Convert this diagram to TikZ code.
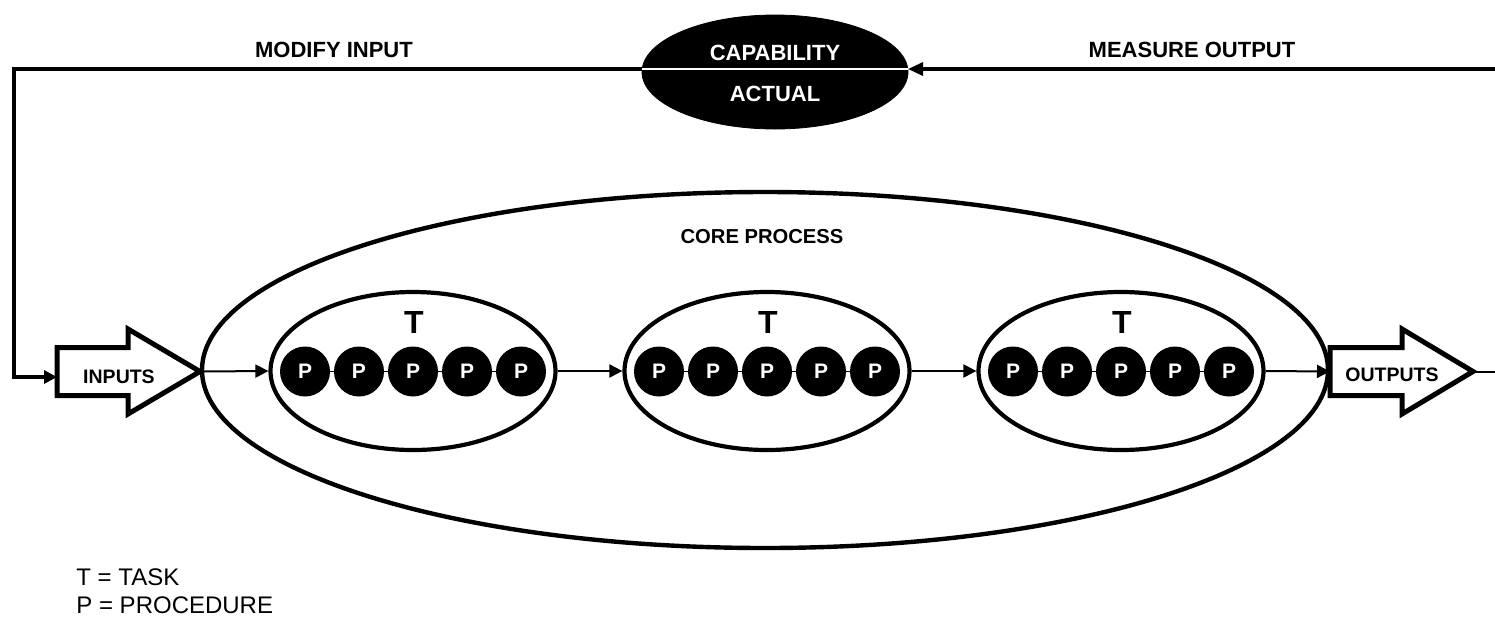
\documentclass[tikz,border=0pt]{standalone}
\usepackage{fontspec}
\setmainfont{Liberation Sans}
\usetikzlibrary{shapes.geometric,arrows.meta}
\tikzset{
  lbl/.style={inner sep=0pt, font=\fontsize{11}{13}\selectfont\bfseries},
  capnode/.style={ellipse, fill=black, draw=black, minimum width=133pt, minimum height=57pt, inner sep=0pt},
  coreell/.style={ellipse, draw=black, line width=2.2pt, minimum width=563pt, minimum height=178pt, inner sep=0pt},
  taskell/.style={ellipse, draw=black, line width=2.1pt, minimum width=142.5pt, minimum height=79pt, inner sep=0pt},
  proc/.style={circle, fill=black, minimum size=25pt, inner sep=0pt, text=white, font=\fontsize{10.5}{12}\selectfont\bfseries},
  blockarrow/.style={draw=black, line width=2.5pt, line join=miter},
  conn/.style={line width=1pt, -{Triangle[length=6.5pt,width=6.5pt]}},
  fb/.style={line width=1.6pt},
  legend/.style={inner sep=0pt, anchor=west, font=\fontsize{12}{14}\selectfont},
}
\begin{document}
\begin{tikzpicture}[x=0.5pt,y=-0.5pt]
\useasboundingbox (0,0) rectangle (1495,617);
% outer core process ellipse
\node[coreell] (core) at (765,370) {};
\node[lbl, font=\fontsize{10.1}{12}\selectfont\bfseries] (coret) at (762,237) {CORE PROCESS};
% task ellipses
\foreach \i/\cx in {1/413,2/767,3/1121}{
  \node[taskell] (t\i) at (\cx,371) {};
  \node[inner sep=0pt, font=\fontsize{16}{18}\selectfont\bfseries] (tt\i) at (\cx+1,322) {T};
  \foreach \j/\dx in {1/-108,2/-54,3/0,4/54,5/108}{
    \node[proc] (p\i\j) at (\cx+\dx,371.5) {P};
  }
  \foreach \a/\b in {1/2,2/3,3/4,4/5}{
    \draw[line width=0.6pt] (p\i\a.east) -- (p\i\b.west);
  }
}
% input block arrow
\draw[blockarrow] (57,347.5) -- (128,347.5) -- (128,329) -- (200,371.5) -- (128,414) -- (128,395.5) -- (57,395.5) -- cycle;
\coordinate (intip) at (200,371.5);
\coordinate (inleft) at (57,377);
\node[lbl, font=\fontsize{9.75}{12}\selectfont\bfseries] (inputs) at (119,377) {INPUTS};
% output block arrow
\draw[blockarrow] (1330,347.5) -- (1402,347.5) -- (1402,329) -- (1473,371.5) -- (1402,414) -- (1402,395.5) -- (1330,395.5) -- cycle;
\coordinate (outleft) at (1330,371.5);
\coordinate (outtip) at (1473,371.5);
\coordinate (outR) at (1495,371.5);
\node[lbl, font=\fontsize{9.75}{12}\selectfont\bfseries] (outputs) at (1392,375) {OUTPUTS};
% connectors
\draw[conn] (intip) -- (t1.west);
\draw[conn] (t1.east) -- (t2.west);
\draw[conn] (t2.east) -- (t3.west);
\draw[conn] (t3.east) -- (outleft);
\draw[line width=1pt] (outtip) -- (outR);
% capability ellipse
\node[capnode] (cap) at (775,72) {};
\coordinate (capW) at (642,69);
\coordinate (capE) at (908,69);
\node[lbl, text=white] (capt) at (775,53) {CAPABILITY};
\node[lbl, text=white] (actt) at (775,94) {ACTUAL};
% feedback
\coordinate (cornL) at (14,377);
\coordinate (fbR) at (1495,69);
\draw[fb, -{Triangle[length=6.5pt,width=6.5pt]}] (capW) -| (cornL) -- (inleft);
\draw[fb, -{Triangle[length=7.5pt,width=6.5pt]}] (fbR) -- (capE);
\draw[white, line width=1pt] (capW) -- (capE);
\node[lbl] (modify) at (334,50) {MODIFY INPUT};
\node[lbl] (measure) at (1192,50) {MEASURE OUTPUT};
% legend
\node[legend] (legT) at (76,577) {T = TASK};
\node[legend] (legP) at (76,605) {P = PROCEDURE};
\end{tikzpicture}
\end{document}
